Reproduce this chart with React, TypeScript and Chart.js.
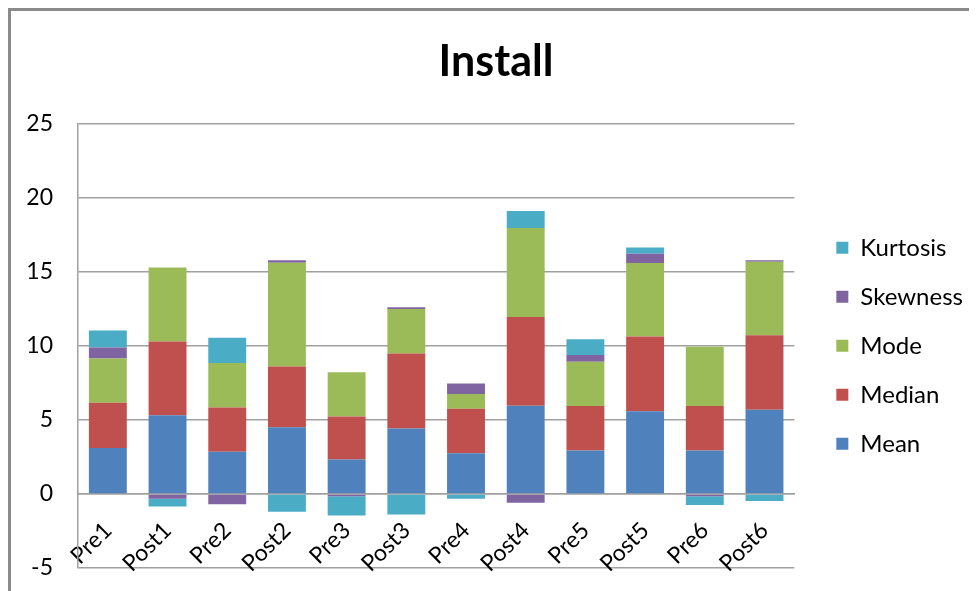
import React, { useEffect, useRef } from "react";
import { Chart, registerables } from "chart.js";

Chart.register(...registerables);

const categories = ["Pre1", "Post1", "Pre2", "Post2", "Pre3", "Post3", "Pre4", "Post4", "Pre5", "Post5", "Pre6", "Post6"];
const meanValues = [3.1, 5.32, 2.84, 4.5, 2.32, 4.42, 2.75, 5.95, 2.93, 5.59, 2.93, 5.68];
const medianValues = [3.05, 4.97, 3.0, 4.1, 2.9, 5.06, 3.0, 6.0, 3.0, 5.04, 3.0, 5.04];
const modeValues = [3.0, 5.0, 3.0, 7.0, 3.0, 3.0, 1.0, 6.0, 3.0, 4.96, 4.0, 4.96];
const skewnessValues = [0.73, -0.32, -0.7, 0.18, -0.16, 0.12, 0.7, -0.6, 0.45, 0.63, -0.15, 0.09];
const kurtosisValues = [1.15, -0.52, 1.7, -1.2, -1.3, -1.38, -0.32, 1.15, 1.06, 0.42, -0.6, -0.48];
const yTicks = [-5, 0, 5, 10, 15, 20, 25];

const FONT = "Lato, 'Open Sans', sans-serif";

export default function App() {
  const ref = useRef<HTMLCanvasElement | null>(null);

  useEffect(() => {
    if (!ref.current) return;
    const chart = new Chart(ref.current, {
      type: "bar",
      data: {
        labels: categories,
        datasets: [
          { label: "Mean", data: meanValues, backgroundColor: "#4F81BD" },
          { label: "Median", data: medianValues, backgroundColor: "#C0504D" },
          { label: "Mode", data: modeValues, backgroundColor: "#9BBB59" },
          { label: "Skewness", data: skewnessValues, backgroundColor: "#8064A2" },
          { label: "Kurtosis", data: kurtosisValues, backgroundColor: "#4BACC6" },
        ],
      },
      options: {
        responsive: false,
        animation: false,
        devicePixelRatio: 1,
        layout: { padding: { left: 12, right: 8, top: 0, bottom: 23 } },
        datasets: {
          bar: { barPercentage: 0.635, categoryPercentage: 1, borderWidth: 0 },
        },
        plugins: {
          title: {
            display: true,
            text: "Install",
            color: "#000",
            font: { family: FONT, size: 43, weight: "bold" },
            padding: { top: 25, bottom: 36 },
          },
          legend: {
            position: "right",
            fullSize: false,
            reverse: true,
            labels: {
              color: "#000",
              font: { family: FONT, size: 24 },
              boxWidth: 12,
              boxHeight: 12,
              padding: 25,
            },
          },
          tooltip: { enabled: false },
        },
        scales: {
          x: {
            stacked: true,
            position: { y: 0 } as any,
            grid: { display: false, drawTicks: false },
            border: { display: true, color: "#a0a0a0", width: 1.5 },
            ticks: {
              color: "#000",
              font: { family: FONT, size: 23 },
              minRotation: 45,
              maxRotation: 45,
              autoSkip: false,
              padding: 23,
            },
          },
          y: {
            stacked: true,
            min: -5,
            max: 25,
            afterBuildTicks: (scale: any) => {
              scale.ticks = yTicks.map((v) => ({ value: v }));
            },
            afterFit: (scale: any) => {
              scale.width = 55;
              scale.paddingTop = 0;
              scale.paddingBottom = 0;
            },
            grid: { color: "#a0a0a0", lineWidth: 1.5, drawTicks: false },
            border: { display: true, color: "#a0a0a0", width: 1.5 },
            ticks: {
              color: "#000",
              font: { family: FONT, size: 23 },
              padding: 25,
            },
          },
          spacer: {
            type: "linear",
            position: "right",
            display: true,
            grid: { display: false, drawTicks: false },
            border: { display: false },
            ticks: { display: false },
            afterFit: (scale: any) => {
              scale.width = 17;
              scale.paddingTop = 0;
              scale.paddingBottom = 0;
            },
          },
        },
      } as any,
    });
    return () => chart.destroy();
  }, []);

  return (
    <div
      style={{
        width: 969,
        height: 583,
        boxSizing: "border-box",
        borderTop: "3px solid #8a8a8a",
        borderLeft: "3px solid #8a8a8a",
        background: "#fff",
      }}
    >
      <canvas ref={ref} width={966} height={580} style={{ display: "block" }} />
    </div>
  );
}
